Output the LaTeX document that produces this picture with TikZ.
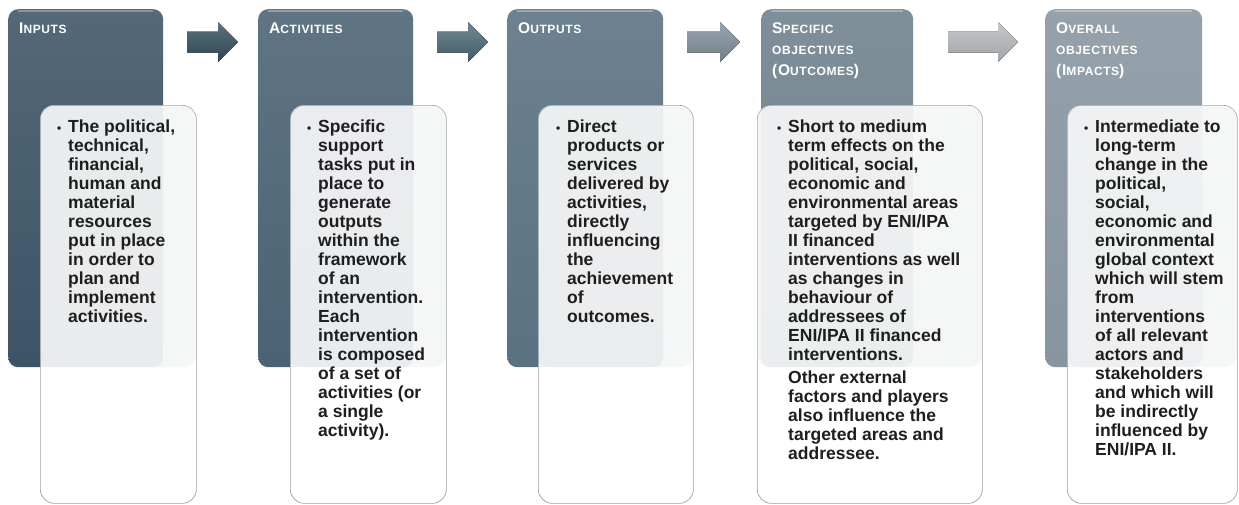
\documentclass[tikz,border=0pt]{standalone}
\usepackage{fontspec}
\setmainfont{Liberation Sans}
\definecolor{c1}{HTML}{3C5466}
\definecolor{c2}{HTML}{4A6273}
\definecolor{c3}{HTML}{597181}
\definecolor{c4}{HTML}{6E808C}
\definecolor{c5}{HTML}{87959F}
\definecolor{a1}{HTML}{34505F}
\definecolor{a2}{HTML}{4E6A7A}
\definecolor{a3}{HTML}{7E8F9A}
\definecolor{a4}{HTML}{B3B6B9}
\definecolor{txt}{HTML}{1E1E1E}
\definecolor{edge}{HTML}{97A2A9}
\definecolor{tint}{HTML}{E4E7EA}
\newcommand{\Bg}[1]{{\fontsize{15.5}{21}\selectfont #1}}
\newcommand{\Sm}[1]{{\fontsize{12}{21}\selectfont #1}}
\newcommand{\HR}{\rule{0pt}{13pt}}
\newcommand{\BR}{\rule{0pt}{15pt}}
\newcommand{\Bul}{\llap{\fontsize{12}{12}\selectfont\textbullet\hspace{7pt}}}
\begin{document}
\begin{tikzpicture}[x=1pt,y=-1pt,
  darkbox/.style={rounded corners=10pt, minimum height=358pt, anchor=north west, inner sep=0pt, draw=none},
  textbox/.style={rounded corners=14pt, minimum height=398pt, anchor=north west, inner sep=0pt, draw=edge, line width=0.7pt, fill=white, fill opacity=0.9},
  tintpart/.style={fill=tint, opacity=0.35, rounded corners=12pt},
  gloss/.style={white, opacity=0.3, line width=1.6pt},
  head/.style={anchor=north west, inner sep=0pt, text=white, align=left, font=\bfseries\fontsize{15.5}{21}\selectfont\addfontfeature{LetterSpace=5}},
  body/.style={anchor=north west, inner sep=0pt, text=txt, align=left, font=\bfseries\fontsize{17.5}{19}\selectfont},
]
\useasboundingbox (0,0) rectangle (1239,504);

% ---------- dark header boxes ----------
\node[darkbox, minimum width=155pt, top color=c1!88!white, bottom color=c1] (b1) at (8,9) {};
\node[darkbox, minimum width=155pt, top color=c2!88!white, bottom color=c2] (b2) at (258,9) {};
\node[darkbox, minimum width=156pt, top color=c3!88!white, bottom color=c3] (b3) at (507,9) {};
\node[darkbox, minimum width=152pt, top color=c4!88!white, bottom color=c4] (b4) at (761,9) {};
\node[darkbox, minimum width=157pt, top color=c5!88!white, bottom color=c5] (b5) at (1045,9) {};
\foreach \b in {b1,b2,b3,b4,b5}{
  \draw[gloss] ([xshift=10pt,yshift=-2pt]\b.north west) -- ([xshift=-10pt,yshift=-2pt]\b.north east);
}

% ---------- headers ----------
\node[head] (h1) at ([xshift=11pt,yshift=-11pt]b1.north west) {\HR\Bg{I}\Sm{NPUTS}};
\node[head] (h2) at ([xshift=11pt,yshift=-11pt]b2.north west) {\HR\Bg{A}\Sm{CTIVITIES}};
\node[head] (h3) at ([xshift=11pt,yshift=-11pt]b3.north west) {\HR\Bg{O}\Sm{UTPUTS}};
\node[head] (h4) at ([xshift=11pt,yshift=-11pt]b4.north west) {\HR\Bg{S}\Sm{PECIFIC}\\ \Sm{OBJECTIVES}\\ \Bg{(O}\Sm{UTCOMES}\Bg{)}};
\node[head] (h5) at ([xshift=11pt,yshift=-11pt]b5.north west) {\HR\Bg{O}\Sm{VERALL}\\ \Sm{OBJECTIVES}\\ \Bg{(I}\Sm{MPACTS}\Bg{)}};

% ---------- block arrows ----------
\coordinate (a1s) at (187,42);
\coordinate (a2s) at (437,42);
\coordinate (a3s) at (687,42);
\coordinate (a4s) at (948,42);
\fill[top color=a1!80!white, bottom color=a1!85!black] (a1s) ++(0,-10.5) -- ++(31,0) -- ++(0,-9.5) -- ++(20,20) -- ++(-20,20) -- ++(0,-9.5) -- ++(-31,0) -- cycle;
\fill[top color=a2!80!white, bottom color=a2!85!black] (a2s) ++(0,-10.5) -- ++(31,0) -- ++(0,-9.5) -- ++(20,20) -- ++(-20,20) -- ++(0,-9.5) -- ++(-31,0) -- cycle;
\fill[top color=a3!80!white, bottom color=a3!88!black] (a3s) ++(0,-10.5) -- ++(33,0) -- ++(0,-9.5) -- ++(20,20) -- ++(-20,20) -- ++(0,-9.5) -- ++(-33,0) -- cycle;
\fill[top color=a4!75!white, bottom color=a4!90!black] (a4s) ++(0,-10.5) -- ++(50,0) -- ++(0,-9.5) -- ++(20,20) -- ++(-20,20) -- ++(0,-9.5) -- ++(-50,0) -- cycle;

% ---------- text boxes ----------
\node[textbox, minimum width=156pt] (t1) at (40,105) {};
\node[textbox, minimum width=156pt] (t2) at (290,105) {};
\node[textbox, minimum width=155pt] (t3) at (538,105) {};
\node[textbox, minimum width=225pt] (t4) at (757,105) {};
\node[textbox, minimum width=170pt] (t5) at (1067,105) {};
\foreach \t in {t1,t2,t3,t4,t5}{
  \fill[tintpart] ([xshift=0.5pt,yshift=-0.5pt]\t.north west) rectangle ([xshift=-0.5pt,yshift=-262pt]\t.north east);
}

% ---------- body texts ----------
\node[body] (x1) at ([xshift=28pt,yshift=-12pt]t1.north west) {\BR\Bul The political,\\ technical,\\ financial,\\ human and\\ material\\ resources\\ put in place\\ in order to\\ plan and\\ implement\\ activities.};
\node[body] (x2) at ([xshift=28pt,yshift=-12pt]t2.north west) {\BR\Bul Specific\\ support\\ tasks put in\\ place to\\ generate\\ outputs\\ within the\\ framework\\ of an\\ intervention.\\ Each\\ intervention\\ is composed\\ of a set of\\ activities (or\\ a single\\ activity).};
\node[body] (x3) at ([xshift=29pt,yshift=-12pt]t3.north west) {\BR\Bul Direct\\ products or\\ services\\ delivered by\\ activities,\\ directly\\ influencing\\ the\\ achievement\\ of\\ outcomes.};
\node[body] (x4) at ([xshift=31pt,yshift=-12pt]t4.north west) {\BR\Bul Short to medium\\ term effects on the\\ political, social,\\ economic and\\ environmental areas\\ targeted by ENI/IPA\\ II financed\\ interventions as well\\ as changes in\\ behaviour of\\ addressees of\\ ENI/IPA II financed\\ interventions.\\[4pt] Other external\\ factors and players\\ also influence the\\ targeted areas and\\ addressee.};
\node[body] (x5) at ([xshift=28pt,yshift=-12pt]t5.north west) {\BR\Bul Intermediate to\\ long-term\\ change in the\\ political,\\ social,\\ economic and\\ environmental\\ global context\\ which will stem\\ from\\ interventions\\ of all relevant\\ actors and\\ stakeholders\\ and which will\\ be indirectly\\ influenced by\\ ENI/IPA II.};
\end{tikzpicture}
\end{document}
